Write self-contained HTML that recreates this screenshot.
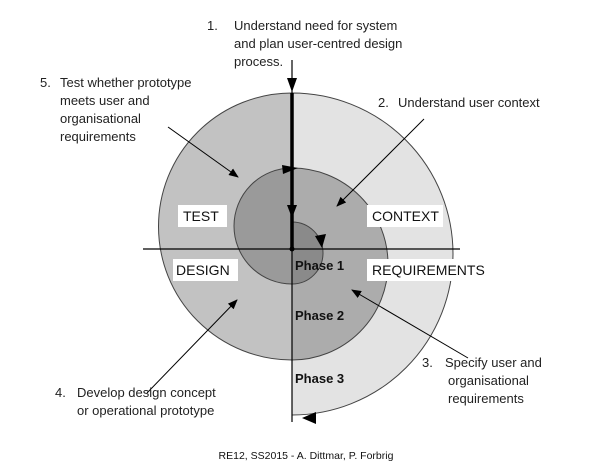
<!DOCTYPE html>
<html><head><meta charset="utf-8"><style>
html,body{margin:0;padding:0;background:#fff;}
svg{display:block;font-family:"Liberation Sans",Arial,sans-serif;}
</style></head><body>
<svg width="612" height="476" viewBox="0 0 612 476" xmlns="http://www.w3.org/2000/svg">
<defs>
<marker id="ah" markerWidth="10" markerHeight="8" refX="9" refY="4" orient="auto" markerUnits="userSpaceOnUse">
<path d="M0,0 L10,4 L0,8 z" fill="#000"/></marker>
</defs>
<!-- regions -->
<path d="M292,93 A161,161 0 0 1 292,415 Z" fill="#e3e3e3" stroke="#444" stroke-width="1"/>
<path d="M292,93 A133,133 0 0 0 292,360 Z" fill="#c2c2c2" stroke="#444" stroke-width="1"/>
<path d="M292,168 A96,96 0 0 1 292,360 Z" fill="#acacac" stroke="#444" stroke-width="1"/>
<path d="M292,168 A58,58 0 0 0 292,284 Z" fill="#9a9a9a" stroke="#444" stroke-width="1"/>
<path d="M292,222 A31,31 0 0 1 292,284 Z" fill="#8a8a8a" stroke="#444" stroke-width="1"/>
<!-- axes -->
<line x1="143" y1="249" x2="460" y2="249" stroke="#000" stroke-width="1.2"/>
<line x1="292" y1="60" x2="292" y2="422" stroke="#000" stroke-width="1.2"/>
<line x1="292" y1="93" x2="292" y2="249" stroke="#000" stroke-width="3.5"/>
<circle cx="292" cy="249" r="2.5" fill="#000"/>
<!-- arrowheads on axis/spiral -->
<path d="M287,78 L297,78 L292,92 z" fill="#000"/>
<path d="M287,205 L297,205 L292,218 z" fill="#000"/>
<path d="M282,165 L298,168 L283,174 z" fill="#000"/>
<path d="M315,236 L326,234 L322,248 z" fill="#000"/>
<path d="M316,412 L302,418 L316,424 z" fill="#000"/>
<!-- leader lines -->
<line x1="168" y1="127" x2="238" y2="177" stroke="#000" stroke-width="1" marker-end="url(#ah)"/>
<line x1="424" y1="119" x2="337" y2="206" stroke="#000" stroke-width="1" marker-end="url(#ah)"/>
<line x1="468" y1="358" x2="352" y2="290" stroke="#000" stroke-width="1" marker-end="url(#ah)"/>
<line x1="147" y1="393" x2="237" y2="300" stroke="#000" stroke-width="1" marker-end="url(#ah)"/>
<!-- quadrant labels -->
<rect x="178" y="205" width="49" height="22" fill="#fff"/>
<rect x="367" y="205" width="76" height="22" fill="#fff"/>
<rect x="173" y="259" width="65" height="22" fill="#fff"/>
<rect x="367" y="259" width="130" height="22" fill="#fff"/>
<g font-size="14" fill="#111">
<text x="183" y="221">TEST</text>
<text x="372" y="221">CONTEXT</text>
<text x="176" y="275">DESIGN</text>
<text x="372" y="275">REQUIREMENTS</text>
</g>
<g font-size="13" font-weight="bold" fill="#111">
<text x="295" y="270">Phase 1</text>
<text x="295" y="320">Phase 2</text>
<text x="295" y="383">Phase 3</text>
</g>
<g font-size="13" fill="#222">
<text x="207" y="30">1.</text>
<text x="234" y="30">Understand need for system</text>
<text x="234" y="48">and plan user-centred design</text>
<text x="234" y="66">process.</text>
<text x="40" y="87">5.</text>
<text x="60" y="87">Test whether prototype</text>
<text x="60" y="105">meets user and</text>
<text x="60" y="123">organisational</text>
<text x="60" y="141">requirements</text>
<text x="378" y="107">2.</text>
<text x="398" y="107">Understand user context</text>
<text x="422" y="367">3.</text>
<text x="445" y="367">Specify user and</text>
<text x="448" y="385">organisational</text>
<text x="448" y="403">requirements</text>
<text x="55" y="397">4.</text>
<text x="77" y="397">Develop design concept</text>
<text x="77" y="415">or operational prototype</text>
</g>
<text x="306" y="459" font-size="10.5" text-anchor="middle" fill="#111">RE12, SS2015 - A. Dittmar, P. Forbrig</text>
</svg>
</body></html>
